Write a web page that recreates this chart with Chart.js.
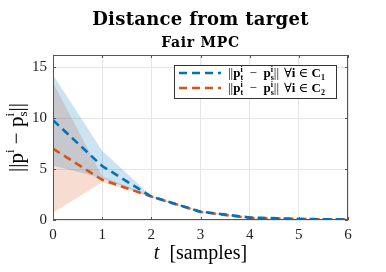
<!DOCTYPE html>
<html>
<head>
<meta charset="utf-8">
<script src="https://cdn.jsdelivr.net/npm/chart.js@4.4.0/dist/chart.umd.min.js"></script>
<style>
  html, body { margin: 0; padding: 0; background: #fff; }
  #wrap { width: 386px; height: 272px; }
</style>
</head>
<body>
<div id="wrap"><canvas id="myChart" width="386" height="272"></canvas></div>
<script>
// valeurs
const samples = [0, 1, 2, 3, 4, 5, 6];
const meanC1 = [9.8, 5.3, 2.3, 0.82, 0.25, 0.1, 0.05];
const upperC1 = [14.25, 6.8, 2.35, 0.85, 0.25, 0.1, 0.05];
const lowerC1 = [5.35, 4.1, 2.25, 0.78, 0.2, 0.1, 0.05];
const meanC2 = [7.0, 3.95, 2.3, 0.8, 0.2, 0.1, 0.05];
const upperC2 = [13.5, 4.3, 2.35, 0.85, 0.2, 0.1, 0.05];
const lowerC2 = [0.7, 3.7, 2.25, 0.78, 0.15, 0.08, 0.04];
const xTicks = [0, 1, 2, 3, 4, 5, 6];
const yTicks = [0, 5, 10, 15];

const blue = '#0072BD';
const orange = '#D95319';
const serif = '"Liberation Serif", "DejaVu Serif", serif';
const boldSerif = '"DejaVu Serif", serif';

const pts = arr => arr.map((v, i) => ({ x: samples[i], y: v }));

// dessine un texte avec indices / exposants
function drawRich(ctx, segs, x, y, measureOnly) {
  let w = 0;
  segs.forEach(s => {
    ctx.font = s.font;
    if (s.stack) {
      s.w = Math.max(ctx.measureText(s.sup).width, ctx.measureText(s.sub).width);
    } else {
      s.w = ctx.measureText(s.text).width;
    }
    w += s.w;
  });
  if (measureOnly) return w;
  let cx = x;
  segs.forEach(s => {
    ctx.font = s.font;
    if (s.stack) {
      ctx.fillText(s.sup, cx, y + s.supDy);
      ctx.fillText(s.sub, cx, y + s.subDy);
    } else {
      ctx.fillText(s.text, cx, y + (s.dy || 0));
    }
    cx += s.w;
  });
  return w;
}

const decorPlugin = {
  id: 'decor',
  afterDraw(chart) {
    const ctx = chart.ctx;
    const a = chart.chartArea;
    const xs = chart.scales.x, ys = chart.scales.y;
    ctx.save();
    // cadre + graduations internes
    ctx.strokeStyle = '#555';
    ctx.lineWidth = 1;
    ctx.strokeRect(a.left + 0.5, a.top + 0.5, a.right - a.left - 1, a.bottom - a.top - 1);
    ctx.beginPath();
    xTicks.forEach(t => {
      const px = Math.round(xs.getPixelForValue(t)) + 0.5;
      ctx.moveTo(px, a.bottom); ctx.lineTo(px, a.bottom - 3);
      ctx.moveTo(px, a.top); ctx.lineTo(px, a.top + 3);
    });
    yTicks.forEach(t => {
      const py = Math.round(ys.getPixelForValue(t)) + 0.5;
      ctx.moveTo(a.left, py); ctx.lineTo(a.left + 3, py);
      ctx.moveTo(a.right, py); ctx.lineTo(a.right - 3, py);
    });
    ctx.stroke();

    // titres
    const cx = (a.left + a.right) / 2;
    ctx.fillStyle = '#000';
    ctx.textAlign = 'center';
    ctx.textBaseline = 'alphabetic';
    ctx.font = 'bold 18px ' + boldSerif;
    ctx.letterSpacing = '0.3px';
    ctx.fillText('Distance from target', cx, 25);
    ctx.font = 'bold 14px ' + boldSerif;
    ctx.letterSpacing = '0.7px';
    ctx.fillText('Fair MPC', cx, 47);
    ctx.letterSpacing = '0px';

    // titre axe x
    ctx.textAlign = 'left';
    const f1 = 'italic 20px ' + serif, f2 = '20px ' + serif;
    ctx.font = f1; const w1 = ctx.measureText('t').width;
    ctx.font = f2; const w2 = ctx.measureText('  [samples]').width;
    let sx = cx - (w1 + w2) / 2;
    ctx.font = f1; ctx.fillText('t', sx, 259);
    ctx.font = f2; ctx.fillText('  [samples]', sx + w1, 259);

    // titre axe y
    ctx.save();
    ctx.translate(23, (a.top + a.bottom) / 2);
    ctx.rotate(-Math.PI / 2);
    const big = '21px ' + serif, small = '13px ' + serif;
    const ySegs = [
      { text: '||p', font: big },
      { text: 'i', font: small, dy: -9 },
      { text: ' − p', font: big },
      { stack: true, sup: 'i', sub: 's', font: small, supDy: -9, subDy: 4 },
      { text: '||', font: big }
    ];
    const yw = drawRich(ctx, ySegs, 0, 0, true);
    drawRich(ctx, ySegs, -yw / 2, 0);
    ctx.restore();

    // légende
    const lx = 174, ly = 65, lw = 162, lh = 33;
    ctx.fillStyle = '#fff';
    ctx.fillRect(lx, ly, lw, lh);
    ctx.strokeStyle = '#333';
    ctx.lineWidth = 1;
    ctx.strokeRect(lx + 0.5, ly + 0.5, lw, lh);
    const rows = [{ c: blue, n: '1', y: 73 }, { c: orange, n: '2', y: 88 }];
    rows.forEach(r => {
      ctx.strokeStyle = r.c;
      ctx.lineWidth = 2.6;
      ctx.setLineDash([8, 5]);
      ctx.beginPath();
      ctx.moveTo(179, r.y); ctx.lineTo(221, r.y);
      ctx.stroke();
      ctx.setLineDash([]);
      ctx.fillStyle = '#000';
      const n = '13px ' + serif, b = 'bold 13px ' + serif, bs = 'bold 8px ' + serif;
      drawRich(ctx, [
        { text: '||', font: n },
        { text: 'p', font: b },
        { stack: true, sup: 'i', sub: 't', font: bs, supDy: -5, subDy: 3 },
        { text: '  −  ', font: n },
        { text: 'p', font: b },
        { stack: true, sup: 'i', sub: 's', font: bs, supDy: -5, subDy: 3 },
        { text: '||', font: n }
      ], 228, r.y + 4);
      drawRich(ctx, [
        { text: '∀', font: n },
        { text: 'i', font: b },
        { text: ' ∈ ', font: n },
        { text: 'C', font: b },
        { text: r.n, font: bs, dy: 3 }
      ], 284, r.y + 4);
    });
    ctx.restore();
  }
};

const ctx = document.getElementById('myChart').getContext('2d');
const myChart = new Chart(ctx, {
  type: 'line',
  data: {
    datasets: [
      { data: pts(meanC1), borderColor: blue, borderWidth: 2.6, borderDash: [8, 5], pointRadius: 0, fill: false, order: 1 },
      { data: pts(meanC2), borderColor: orange, borderWidth: 2.6, borderDash: [8, 5], pointRadius: 0, fill: false, order: 2 },
      { data: pts(lowerC1), borderWidth: 0, pointRadius: 0, fill: false, order: 5 },
      { data: pts(upperC1), borderWidth: 0, pointRadius: 0, fill: 2, backgroundColor: 'rgba(0,114,189,0.2)', order: 5 },
      { data: pts(lowerC2), borderWidth: 0, pointRadius: 0, fill: false, order: 6 },
      { data: pts(upperC2), borderWidth: 0, pointRadius: 0, fill: 4, backgroundColor: 'rgba(217,83,25,0.2)', order: 6 }
    ]
  },
  options: {
    responsive: false,
    animation: false,
    layout: { padding: { top: 55, right: 38, left: 0, bottom: 0 } },
    plugins: {
      legend: { display: false },
      tooltip: { enabled: false }
    },
    scales: {
      x: {
        type: 'linear',
        min: 0, max: 6,
        afterBuildTicks: s => { s.ticks = xTicks.map(v => ({ value: v })); },
        afterFit: s => { s.height = 52; },
        grid: { color: '#e5e5e5', drawTicks: false },
        border: { display: false },
        ticks: { color: '#222', padding: 6, font: { family: serif, size: 15 } }
      },
      y: {
        min: 0, max: 16.2,
        afterBuildTicks: s => { s.ticks = yTicks.map(v => ({ value: v })); },
        afterFit: s => { s.width = 53; },
        grid: { color: '#e5e5e5', drawTicks: false },
        border: { display: false },
        ticks: { color: '#222', padding: 6, font: { family: serif, size: 15 } }
      }
    }
  },
  plugins: [decorPlugin]
});
</script>
</body>
</html>
